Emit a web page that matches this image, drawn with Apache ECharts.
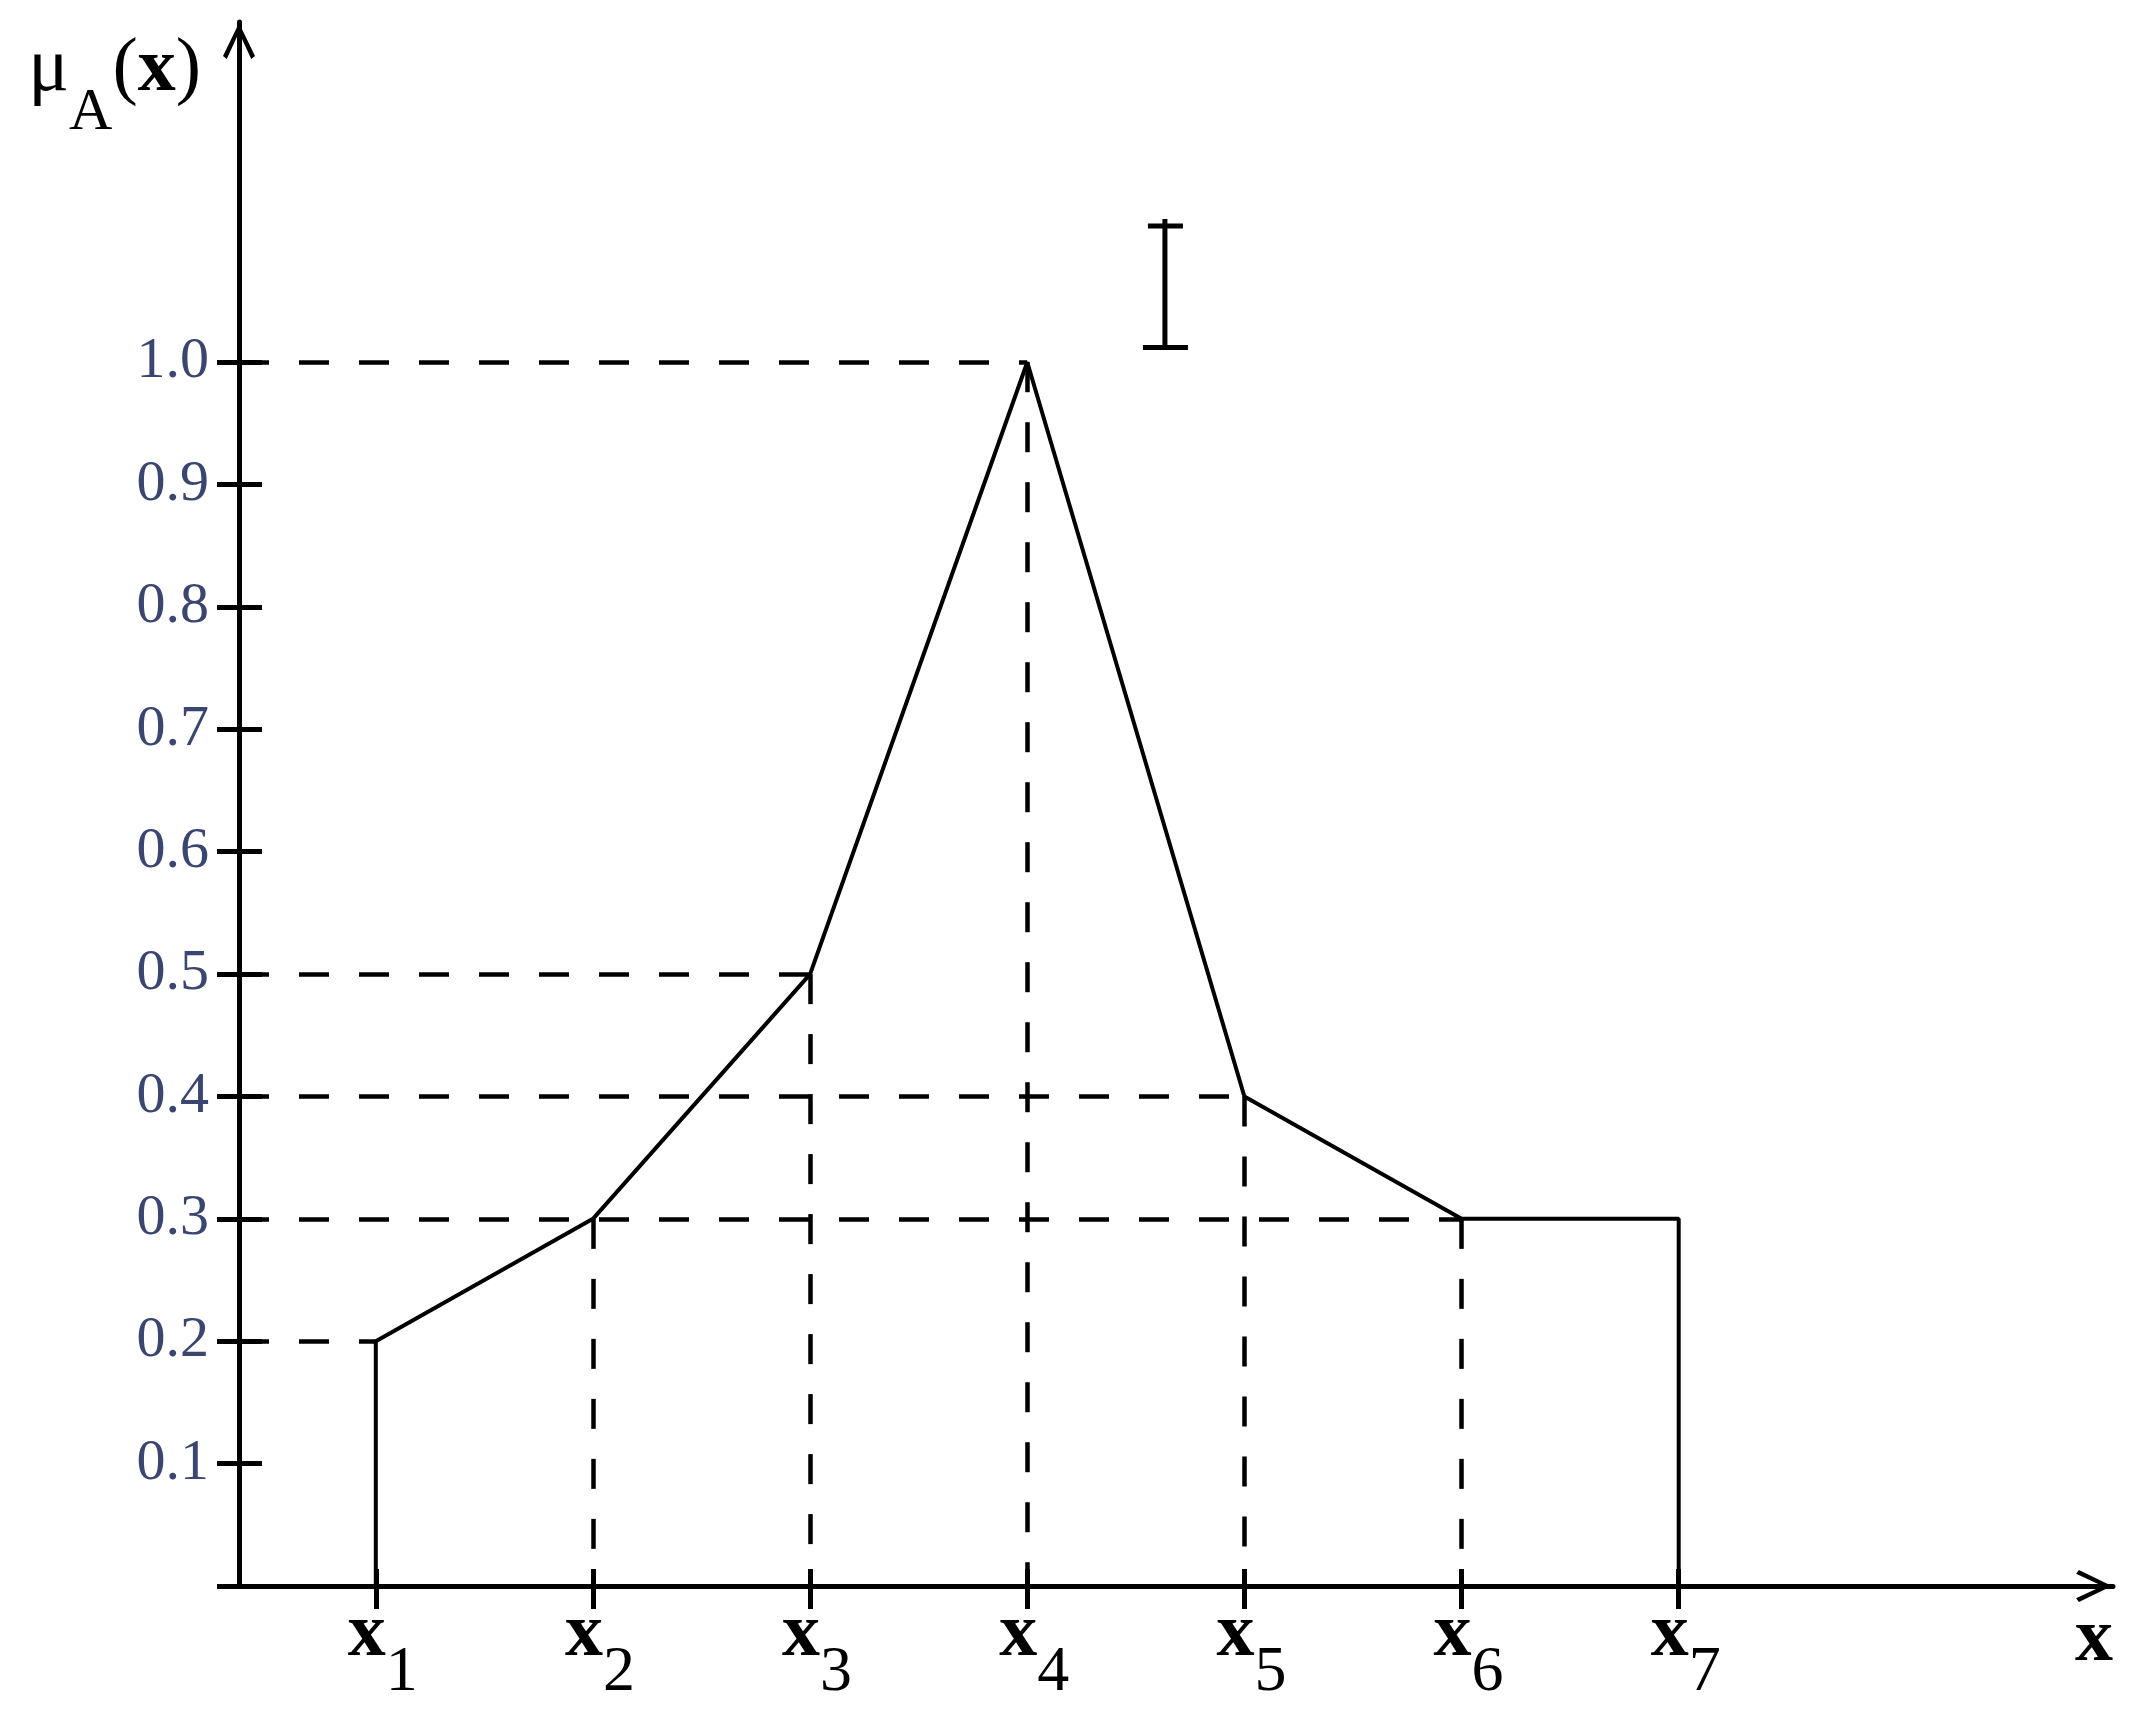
<!DOCTYPE html>
<html>
<head>
<meta charset="utf-8">
<script src="https://cdn.jsdelivr.net/npm/echarts@6/dist/echarts.min.js"></script>
<style>
  html, body { margin: 0; padding: 0; background: #fff; }
  #main { width: 2140px; height: 1723px; }
</style>
</head>
<body>
<div id="main"></div>
<script>
// membership function points x1..x7
var xPos = [1, 2, 3, 4, 5, 6, 7];
var xNames = ['1', '2', '3', '4', '5', '6', '7'];
var mu = [0.2, 0.3, 0.5, 1.0, 0.4, 0.3, 0.3];
// y ticks and their labels
var yTicks = [0.1, 0.2, 0.3, 0.4, 0.5, 0.6, 0.7, 0.8, 0.9, 1.0];
var yTickLabels = ['0.1', '0.2', '0.3', '0.4', '0.5', '0.6', '0.7', '0.8', '0.9', '1.0'];
// which points get dashed guide lines
var hGuides = [0, 2, 3, 4, 5];
var vGuides = [1, 2, 3, 4, 5];
// the stray text cursor in the picture: x, bottom, top
var cursorMark = [4.634, 1.012, 1.117];

var xMin = 0.37, xMax = 9.0;
var yMax = 1.278;

var arrowPath = 'path://M17,0 L34,35 L30,38 L17,10 L4,38 L0,35 Z';
var serif = 'Liberation Serif';
var black = '#000';

// solid outline: up at x1, through the points, down at x7
var outline = [[xPos[0], 0]];
xPos.forEach(function (x, i) { outline.push([x, mu[i]]); });
outline.push([xPos[xPos.length - 1], 0]);

var guideLines = [];
hGuides.forEach(function (i) {
  guideLines.push([{ coord: [xMin, mu[i]] }, { coord: [xPos[i], mu[i]] }]);
});
vGuides.forEach(function (i) {
  guideLines.push([{ coord: [xPos[i], mu[i]] }, { coord: [xPos[i], 0] }]);
});

var chart = echarts.init(document.getElementById('main'), null, { renderer: 'canvas' });

var option = {
  backgroundColor: '#fff',
  animation: false,
  grid: { left: 239, right: 27, top: 22, bottom: 137, outerBoundsMode: 'none' },
  xAxis: [
    {
      type: 'value', min: xMin, max: xMax, position: 'bottom',
      axisLine: {
        show: true, onZero: false,
        symbol: ['none', arrowPath], symbolSize: [32, 38], symbolOffset: [0, -19],
        lineStyle: { color: black, width: 5 }
      },
      axisTick: { show: true, customValues: xPos, length: 23, lineStyle: { color: black, width: 5 } },
      axisLabel: {
        customValues: xPos,
        margin: 11,
        padding: [0, 0, 0, 14],
        formatter: function (v) {
          return '{x|x}{s|' + xNames[xPos.indexOf(v)] + '}';
        },
        rich: {
          x: { fontFamily: serif, fontSize: 76, fontWeight: 'bold', color: black, lineHeight: 76, verticalAlign: 'top' },
          s: { fontFamily: serif, fontSize: 64, color: black, lineHeight: 64, padding: [44, 0, 0, 0], verticalAlign: 'top' }
        }
      },
      splitLine: { show: false },
      name: 'x', nameLocation: 'end', nameGap: 0,
      nameTextStyle: {
        fontFamily: serif, fontSize: 76, fontWeight: 'bold', color: black,
        align: 'right', verticalAlign: 'top', padding: [16, 0, 0, 0]
      }
    },
    {
      type: 'value', min: xMin, max: xMax, position: 'bottom',
      axisLine: { show: false, onZero: false },
      axisTick: { show: true, inside: true, customValues: xPos, length: 17, lineStyle: { color: black, width: 5 } },
      axisLabel: { show: false },
      splitLine: { show: false }
    }
  ],
  yAxis: [
    {
      type: 'value', min: 0, max: yMax, position: 'left',
      axisLine: {
        show: true, onZero: false,
        symbol: ['none', arrowPath], symbolSize: [32, 38], symbolOffset: [0, -19],
        lineStyle: { color: black, width: 5 }
      },
      axisTick: { show: true, customValues: [0].concat(yTicks), length: 22, lineStyle: { color: black, width: 5 } },
      axisLabel: {
        customValues: yTicks,
        margin: 30,
        fontFamily: serif, fontSize: 58, color: '#3a4670',
        textShadowColor: '#e8a05a', textShadowOffsetX: -3, textShadowBlur: 0,
        formatter: function (v) {
          var i = yTicks.findIndex(function (t) { return Math.abs(t - v) < 1e-6; });
          return yTickLabels[i];
        }
      },
      splitLine: { show: false },
      name: '{m|μ}{a|A}{p|(}{b|x}{p|)}', nameLocation: 'end', nameGap: -10,
      nameTextStyle: {
        align: 'right', verticalAlign: 'top', padding: [0, 38, 0, 0],
        rich: {
          m: { fontFamily: serif, fontSize: 76, color: black, lineHeight: 76, verticalAlign: 'top' },
          a: { fontFamily: serif, fontSize: 60, color: black, lineHeight: 60, padding: [51, 0, 0, 0], verticalAlign: 'top' },
          p: { fontFamily: serif, fontSize: 76, color: black, lineHeight: 76, verticalAlign: 'top' },
          b: { fontFamily: serif, fontSize: 76, fontWeight: 'bold', color: black, lineHeight: 76, verticalAlign: 'top' }
        }
      }
    },
    {
      type: 'value', min: 0, max: yMax, position: 'left',
      axisLine: { show: false, onZero: false },
      axisTick: { show: true, inside: true, customValues: yTicks, length: 23, lineStyle: { color: black, width: 5 } },
      axisLabel: { show: false },
      splitLine: { show: false }
    }
  ],
  series: [
    {
      name: 'guides',
      type: 'line',
      data: [],
      markLine: {
        silent: true,
        symbol: ['none', 'none'],
        label: { show: false },
        lineStyle: { color: black, width: 4.5, type: [30, 30] },
        data: guideLines
      }
    },
    {
      name: 'mu',
      type: 'line',
      data: outline,
      showSymbol: false,
      lineStyle: { color: black, width: 4 },
      z: 5
    },
    {
      name: 'cursor',
      type: 'custom',
      data: [cursorMark],
      encode: { x: 0, y: [1, 2] },
      renderItem: function (params, api) {
        var bottom = api.coord([api.value(0), api.value(1)]);
        var top = api.coord([api.value(0), api.value(2)]);
        var st = { stroke: black, lineWidth: 5 };
        return {
          type: 'group',
          children: [
            { type: 'line', shape: { x1: top[0], y1: top[1], x2: bottom[0], y2: bottom[1] }, style: st },
            { type: 'line', shape: { x1: top[0] - 17, y1: top[1] + 7, x2: top[0] + 18, y2: top[1] + 7 }, style: st },
            { type: 'line', shape: { x1: bottom[0] - 22, y1: bottom[1], x2: bottom[0] + 23, y2: bottom[1] }, style: st }
          ]
        };
      }
    }
  ]
};

chart.setOption(option);
</script>
</body>
</html>
